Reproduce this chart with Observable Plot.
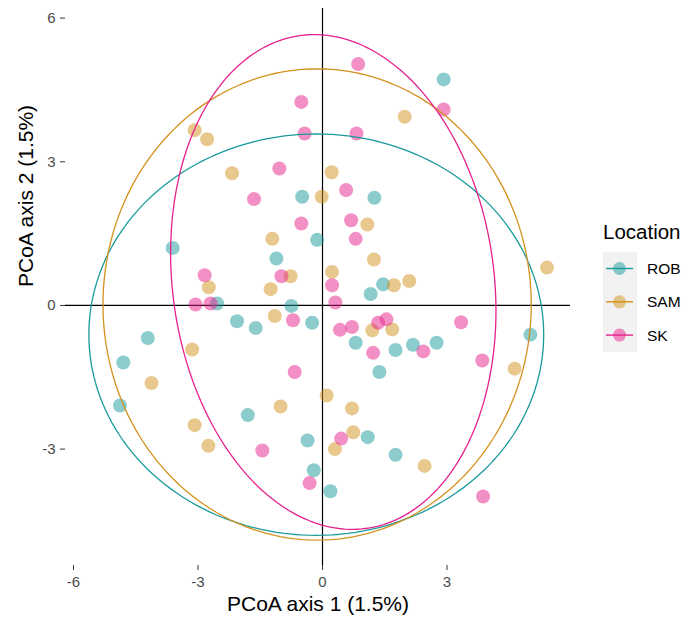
<!DOCTYPE html>
<html>
<head>
<meta charset="utf-8">
<script src="https://cdn.jsdelivr.net/npm/d3@7"></script>
<script src="https://cdn.jsdelivr.net/npm/@observablehq/plot@0.6"></script>
<style>
  body { margin: 0; background: #fff; }
  #wrap { position: relative; width: 683px; height: 618px; font-family: "Liberation Sans", Arial, sans-serif; }
  #legend { position: absolute; left: 600px; top: 215px; }
  g[aria-label="x-axis tick label"], g[aria-label="y-axis tick label"] { fill: #4d4d4d; }
  g[aria-label="x-axis tick"], g[aria-label="y-axis tick"] { stroke: #333333; }
</style>
</head>
<body>
<div id="wrap"></div>
<script>
// ---- data ----
const groups = ["ROB", "SAM", "SK"];
const colors = ["#199a9b", "#d4911d", "#e6218d"];

const robX = [-0.49, -0.13, -3.61, -1.11, -2.54, -0.75, 2.92, 1.25, 1.46, 1.16, -2.06, -1.61, -0.25, -4.21, -4.80, -4.88, -1.80, -0.36, -0.21, 0.19, 0.80, 1.76, 2.18, 2.75, 5.01, 1.37, 1.09, 1.76];
const robY = [2.27, 1.37, 1.20, 0.98, 0.04, -0.01, 4.72, 2.25, 0.44, 0.24, -0.33, -0.47, -0.36, -0.68, -1.19, -2.09, -2.29, -2.82, -3.44, -3.88, -0.78, -0.93, -0.82, -0.78, -0.61, -1.39, -2.75, -3.12];

const samX = [-3.08, -2.78, -2.18, -0.02, 0.22, -1.21, -0.77, -1.25, -2.74, 1.98, 1.08, 1.24, 0.23, 5.41, 1.72, 2.09, -1.15, -3.14, -4.12, 0.10, -1.01, -3.08, -2.75, 1.20, 1.68, 4.63, 0.71, 0.74, 0.30, 2.46];
const samY = [3.66, 3.47, 2.76, 2.27, 2.78, 1.39, 0.61, 0.34, 0.38, 3.94, 1.69, 0.96, 0.70, 0.79, 0.42, 0.51, -0.22, -0.92, -1.62, -1.88, -2.11, -2.50, -2.93, -0.52, -0.50, -1.32, -2.15, -2.65, -3.00, -3.35];

const skX = [-0.51, -0.43, -1.04, -1.65, -0.51, -0.99, -2.84, -3.06, -2.70, 0.86, 2.92, 0.82, 0.57, 0.69, 0.80, 0.23, 0.31, -0.71, -0.67, -1.45, -0.31, 0.42, 0.71, 1.34, 1.54, 1.22, 2.43, 3.34, 3.85, 0.45, 3.87];
const skY = [4.25, 3.59, 2.86, 2.22, 1.71, 0.61, 0.63, 0.02, 0.04, 5.04, 4.09, 3.59, 2.41, 1.78, 1.39, 0.42, 0.06, -0.31, -1.39, -3.03, -3.71, -0.51, -0.45, -0.36, -0.29, -0.99, -0.96, -0.35, -1.15, -2.78, -3.99];

// ellipse parameters per group (centre, half-widths, tilt as y-shear)
const ellCx = [-0.15, -0.13, 0.26];
const ellCy = [-0.61, 0.02, 0.49];
const ellRx = [5.48, 5.16, 3.92];
const ellRy = [4.19, 4.92, 5.13];
const ellShear = [0.0, 0.0, -0.6];

const xTicks = [-6, -3, 0, 3];
const yTicks = [-3, 0, 3, 6];
const xTitle = "PCoA axis 1 (1.5%)";
const yTitle = "PCoA axis 2 (1.5%)";
const legendTitle = "Location";

// ---- build tables ----
const seriesX = [robX, samX, skX];
const seriesY = [robY, samY, skY];
const points = [];
groups.forEach((g, gi) => {
  seriesX[gi].forEach((x, i) => points.push({group: g, x, y: seriesY[gi][i]}));
});
const ellipse = [];
const N = 180;
groups.forEach((g, gi) => {
  for (let k = 0; k <= N; k++) {
    const t = 2 * Math.PI * k / N;
    ellipse.push({
      group: g,
      x: ellCx[gi] + ellRx[gi] * Math.cos(t),
      y: ellCy[gi] + ellShear[gi] * Math.cos(t) + ellRy[gi] * Math.sin(t)
    });
  }
});

const fmt = d => String(d);

const chart = Plot.plot({
  width: 683,
  height: 618,
  marginLeft: 65,
  marginRight: 113,
  marginTop: 8,
  marginBottom: 53,
  style: {fontFamily: '"Liberation Sans", Arial, sans-serif', background: "#fff"},
  x: {domain: [-6.193, 5.976], axis: null},
  y: {domain: [-5.43, 6.20], axis: null},
  color: {domain: groups, range: colors},
  marks: [
    Plot.axisX({ticks: xTicks, tickFormat: fmt, tickSize: 5, tickPadding: 6, fontSize: 15, label: null}),
    Plot.axisY({ticks: yTicks, tickFormat: fmt, tickSize: 5, tickPadding: 5, fontSize: 15, label: null}),
    Plot.ruleY([0], {stroke: "#000", strokeWidth: 1.2}),
    Plot.ruleX([0], {stroke: "#000", strokeWidth: 1.2}),
    Plot.dot(points, {x: "x", y: "y", fill: "group", r: 7, fillOpacity: 0.5, stroke: "none"}),
    Plot.line(ellipse, {x: "x", y: "y", z: "group", stroke: "group", strokeWidth: 1.3, curve: "linear"}),
    Plot.text([xTitle], {frameAnchor: "bottom", dy: 45, lineAnchor: "bottom", fontSize: 21, fill: "#000"}),
    Plot.text([yTitle], {frameAnchor: "left", dx: -33, rotate: -90, lineAnchor: "bottom", fontSize: 21, fill: "#000"})
  ]
});
document.getElementById("wrap").appendChild(chart);

// ---- legend ----
const leg = d3.select("#wrap").append("svg")
  .attr("id", "legend").attr("width", 83).attr("height", 145)
  .style("font-family", '"Liberation Sans", Arial, sans-serif');
leg.append("text").attr("x", 3).attr("y", 24).attr("font-size", 20.5).attr("fill", "#000").text(legendTitle);
leg.append("rect").attr("x", 3).attr("y", 37).attr("width", 34).attr("height", 100).attr("fill", "#f2f2f2");
groups.forEach((g, i) => {
  const cy = 53.5 + i * 33.3;
  leg.append("line").attr("x1", 6).attr("x2", 33).attr("y1", cy).attr("y2", cy)
    .attr("stroke", colors[i]).attr("stroke-width", 1.4);
  leg.append("circle").attr("cx", 19.5).attr("cy", cy).attr("r", 6.5)
    .attr("fill", colors[i]).attr("fill-opacity", 0.5);
  leg.append("text").attr("x", 47).attr("y", cy + 5.5).attr("font-size", 15.5).attr("fill", "#000").text(g);
});
</script>
</body>
</html>
